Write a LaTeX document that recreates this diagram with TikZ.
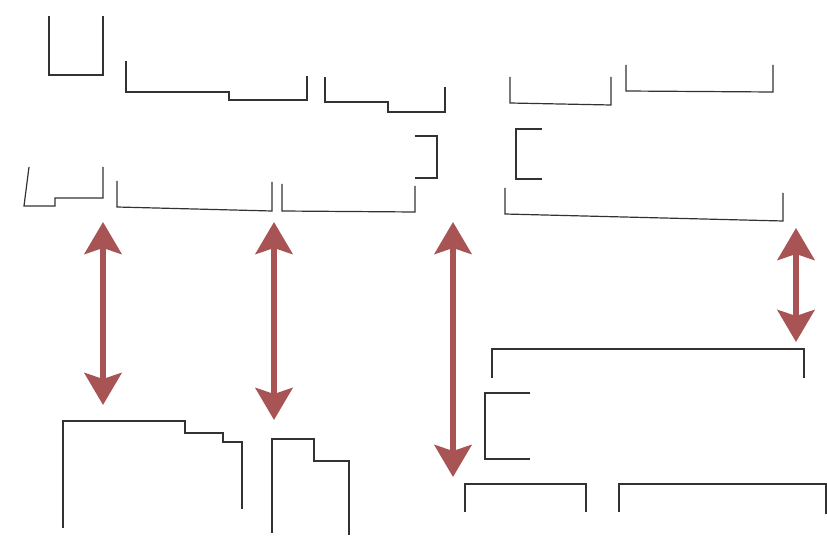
\documentclass[tikz,border=0pt]{standalone}
\usetikzlibrary{arrows.meta}
\definecolor{arrred}{RGB}{168,84,84}
\definecolor{linegray}{RGB}{50,50,50}
\tikzset{
  brk/.style={draw=linegray, line width=1.2pt, line join=miter},
  bigarrow/.style={draw=arrred, line width=6pt, {Stealth[length=32pt,width=37pt,inset=6pt]}-{Stealth[length=32pt,width=37pt,inset=6pt]}}
}
\begin{document}
\begin{tikzpicture}[x=1pt,y=-1pt]
\useasboundingbox (0,0) rectangle (827,540);
% top row shapes
\draw[brk] (49,16) -- (49,75) -- (103,75) -- (103,16);
\draw[brk] (126,61) -- (126,92) -- (229,92) -- (229,100) -- (307,100) -- (307,76);
\draw[brk] (325,77) -- (325,102) -- (388,102) -- (388,112) -- (445,112) -- (445,87);
\draw[brk] (415,136) -- (437,136) -- (437,178) -- (415,178);
\draw[brk] (510,77) -- (510,103) -- (611,105) -- (611,77);
\draw[brk] (626,65) -- (626,91) -- (773,92) -- (773,65);
\draw[brk] (542,129) -- (516,129) -- (516,179) -- (542,179);
% second row
\draw[brk] (29,167) -- (24,206) -- (55,206) -- (55,198) -- (103,198) -- (103,167);
\draw[brk] (117,181) -- (117,207) -- (272,211) -- (272,182);
\draw[brk] (282,184) -- (282,211) -- (415,212) -- (415,186);
\draw[brk] (505,188) -- (505,214) -- (783,221) -- (783,193);
% bottom shapes
\draw[brk] (63,528) -- (63,421) -- (185,421) -- (185,433) -- (223,433) -- (223,442) -- (242,442) -- (242,509);
\draw[brk] (272,533) -- (272,439) -- (314,439) -- (314,461) -- (349,461) -- (349,535);
\draw[brk] (492,378) -- (492,349) -- (804,349) -- (804,378);
\draw[brk] (530,393) -- (485,393) -- (485,459) -- (530,459);
\draw[brk] (465,512) -- (465,484) -- (586,484) -- (586,512);
\draw[brk] (619,512) -- (619,484) -- (826,484) -- (826,514);
% arrows
\coordinate (a1t) at (103,222); \coordinate (a1b) at (103,405);
\coordinate (a2t) at (274,222); \coordinate (a2b) at (274,420);
\coordinate (a3t) at (453,222); \coordinate (a3b) at (453,477);
\coordinate (a4t) at (796,228); \coordinate (a4b) at (796,342);
\draw[bigarrow] (a1t) -- (a1b);
\draw[bigarrow] (a2t) -- (a2b);
\draw[bigarrow] (a3t) -- (a3b);
\draw[bigarrow] (a4t) -- (a4b);
\end{tikzpicture}
\end{document}
